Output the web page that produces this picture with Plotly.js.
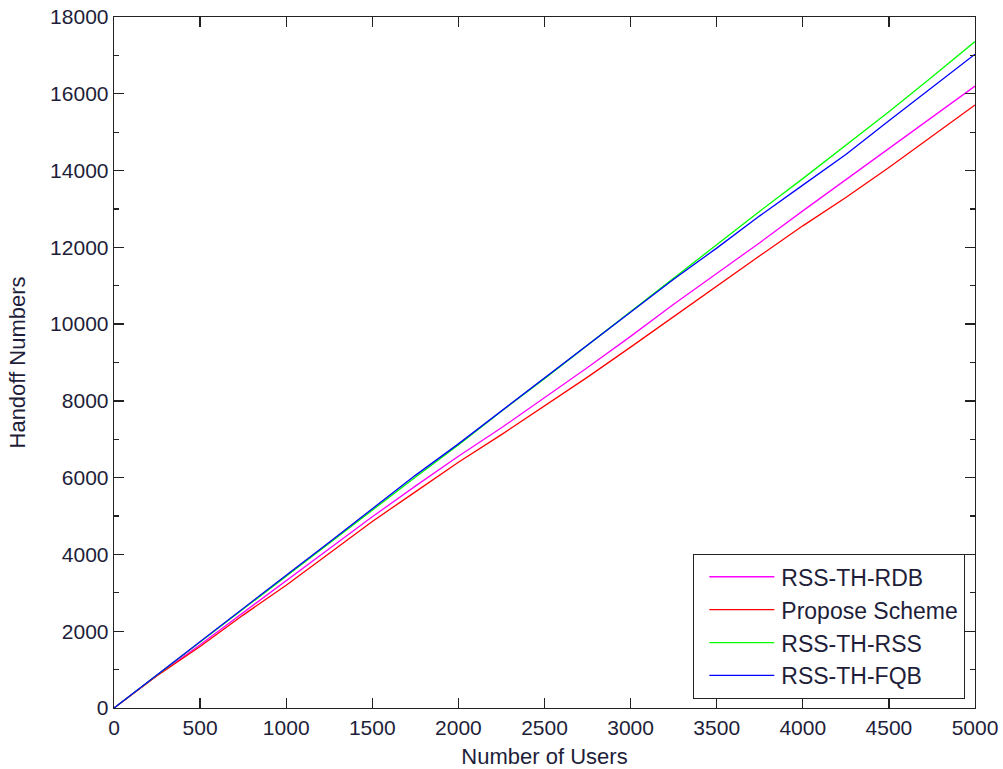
<!DOCTYPE html>
<html>
<head>
<meta charset="utf-8">
<script src="https://cdn.plot.ly/plotly-3.0.1.min.js"></script>
<style>html,body{margin:0;padding:0;background:#fff;}#chart{width:1003px;height:769px;}</style>
</head>
<body>
<div id="chart"></div>
<script>
const users = [0,250,500,750,1000,1250,1500,1750,2000,2250,2500,2750,3000,3250,3500,3750,4000,4250,4500,4750,5000];
const rssThRdb = [0,850,1650,2480,3320,4130,4980,5780,6560,7300,8080,8870,9680,10520,11320,12120,12950,13760,14560,15390,16200];
const proposeScheme = [0,840,1600,2420,3200,4020,4860,5630,6400,7120,7870,8620,9400,10200,11000,11780,12560,13300,14080,14890,15710];
const rssThRss = [0,860,1720,2580,3430,4290,5170,6010,6850,7730,8580,9450,10320,11200,12080,12940,13790,14650,15530,16440,17360];
const rssThFqb = [0,870,1740,2600,3460,4320,5200,6060,6880,7740,8580,9440,10300,11170,11980,12820,13620,14420,15300,16160,17030];
const seriesNames = ['RSS-TH-RDB','Propose Scheme','RSS-TH-RSS','RSS-TH-FQB'];
const xTicks = [0,500,1000,1500,2000,2500,3000,3500,4000,4500,5000];
const yTicks = [0,2000,4000,6000,8000,10000,12000,14000,16000,18000];

const colors = ['#ff00ff','#ff0000','#00ff00','#0000ff'];
const data = [rssThRdb, proposeScheme, rssThRss, rssThFqb].map((ys,i)=>({
  x: users, y: ys, type:'scatter', mode:'lines', name: seriesNames[i],
  line:{color:colors[i], width:1.3}
}));
const fam = 'Arial, "Liberation Sans", sans-serif';
const tickFont = {family:fam, size:21, color:'#1e1e3a'};
const titleFont = {family:fam, size:22, color:'#1e1e3a'};
const legendFont = {family:fam, size:23, color:'#1e1e3a'};
const axisCommon = {
  showline:true, linecolor:'#222', linewidth:1.3, mirror:'allticks',
  ticks:'inside', ticklen:10, tickwidth:1.3, tickcolor:'#222',
  showgrid:false, zeroline:false, tickfont:tickFont
};
const layout = {
  width:1003, height:769,
  margin:{l:114, r:28, t:17, b:61},
  paper_bgcolor:'#fff', plot_bgcolor:'#fff',
  font:tickFont,
  showlegend:true,
  xaxis: Object.assign({}, axisCommon, {
    range:[0,5000], tickvals:xTicks, ticktext:xTicks.map(String),
    title:{text:'Number of Users', font:titleFont, standoff:12}
  }),
  yaxis: Object.assign({}, axisCommon, {
    range:[0,18000], tickvals:yTicks, ticktext:yTicks.map(String),
    minor:{dtick:1000, tick0:0, ticks:'inside', ticklen:5, tickwidth:1.3, tickcolor:'#222'},
    title:{text:'Handoff Numbers', font:titleFont, standoff:18}
  }),
  legend:{
    x:0.9884, y:0.013, xanchor:'right', yanchor:'bottom',
    bgcolor:'#fff', bordercolor:'#222', borderwidth:1.3,
    font:legendFont, itemwidth:77, tracegroupgap:0
  }
};
Plotly.newPlot('chart', data, layout, {staticPlot:true}).then(gd => {
  // lengthen legend line samples to match the reference
  gd.querySelectorAll('.legend .traces path.js-line').forEach(p => p.setAttribute('d','M15,0h65'));
});
</script>
</body>
</html>
